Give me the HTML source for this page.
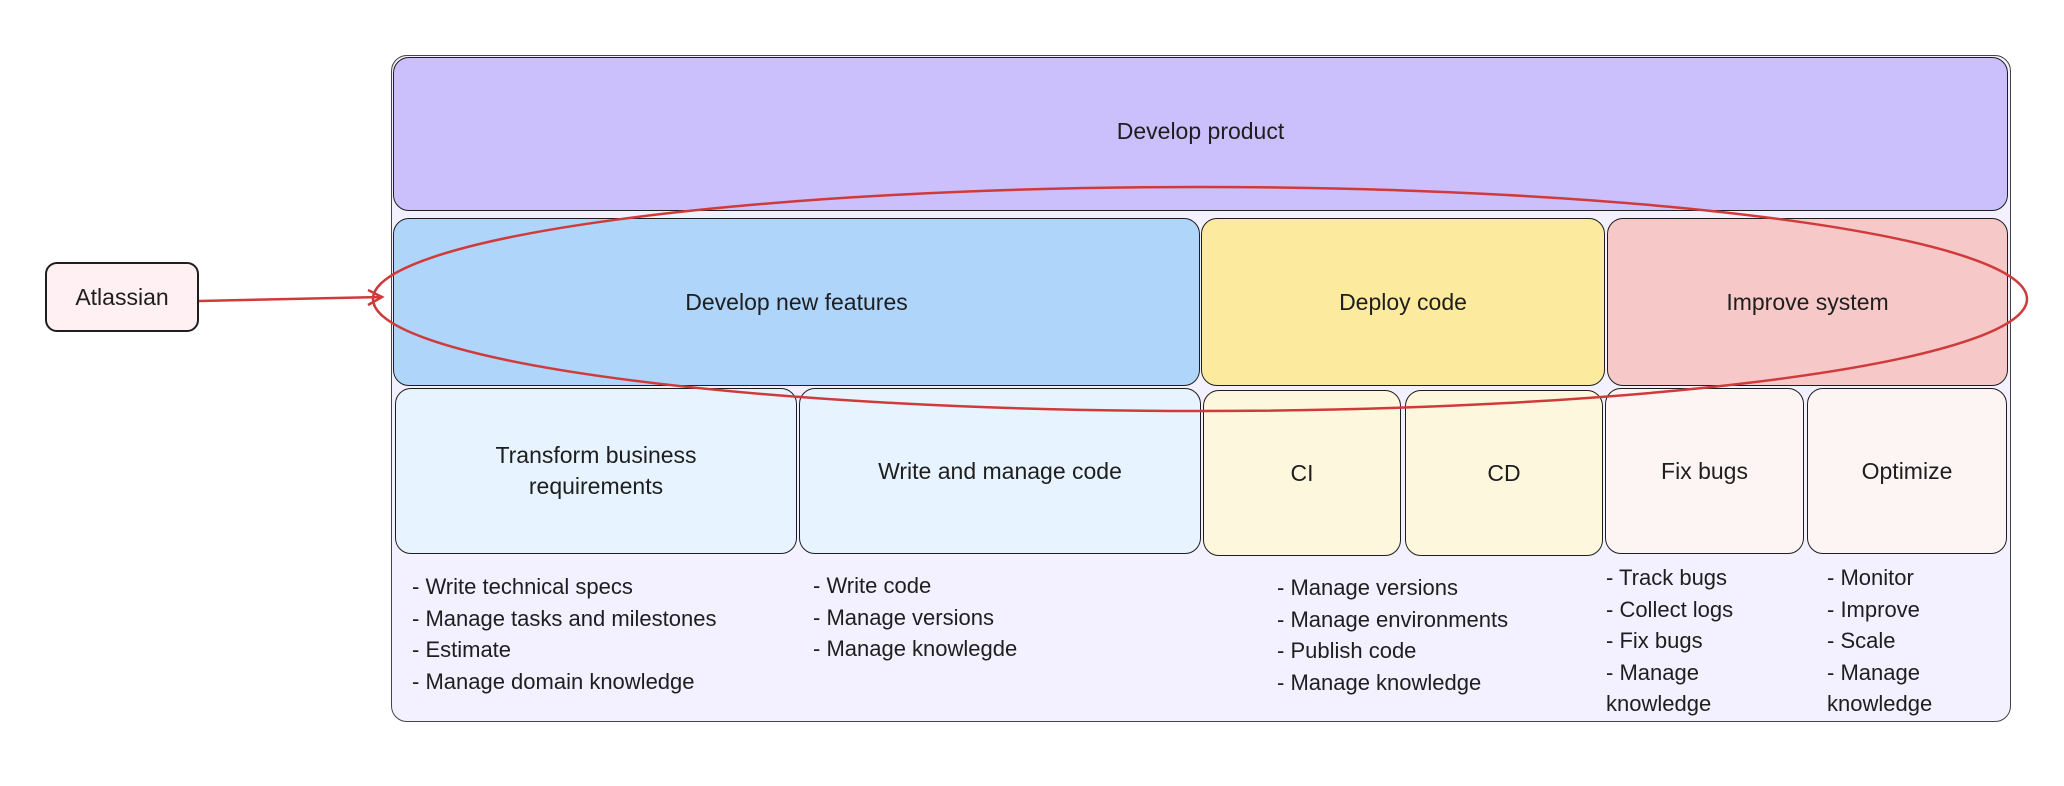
<!DOCTYPE html>
<html><head><meta charset="utf-8"><style>
body{margin:0;width:2064px;height:786px;background:#fff;position:relative;overflow:hidden;font-family:"Liberation Sans",sans-serif;color:#1e1e1e}
.b{position:absolute;box-sizing:border-box;border:1.3px solid #1e1e1e;border-radius:16px;display:flex;align-items:center;justify-content:center;text-align:center;font-size:23px;line-height:31px}
.t{position:absolute;font-size:22px;line-height:31.5px;white-space:pre}
</style></head><body>
<div class="b" style="left:391px;top:55px;width:1620px;height:667px;background:#f3f0ff;border-color:#444"></div>
<div class="b" style="left:393px;top:57px;width:1615px;height:154px;background:#cbc0fb;padding-bottom:6px">Develop product</div>
<div class="b" style="left:393px;top:218px;width:807px;height:168px;background:#afd5fa">Develop new features</div>
<div class="b" style="left:1201px;top:218px;width:404px;height:168px;background:#fcea9f">Deploy code</div>
<div class="b" style="left:1607px;top:218px;width:401px;height:168px;background:#f6c8c8">Improve system</div>
<div class="b" style="left:395px;top:388px;width:402px;height:166px;background:#e7f4ff">Transform business<br>requirements</div>
<div class="b" style="left:799px;top:388px;width:402px;height:166px;background:#e7f4ff">Write and manage code</div>
<div class="b" style="left:1203px;top:390px;width:198px;height:166px;background:#fdf8dd">CI</div>
<div class="b" style="left:1405px;top:390px;width:198px;height:166px;background:#fdf8dd">CD</div>
<div class="b" style="left:1605px;top:388px;width:199px;height:166px;background:#fdf4f4">Fix bugs</div>
<div class="b" style="left:1807px;top:388px;width:200px;height:166px;background:#fdf4f4">Optimize</div>
<div class="t" style="left:412px;top:571px">- Write technical specs
- Manage tasks and milestones
- Estimate
- Manage domain knowledge</div>
<div class="t" style="left:813px;top:570px">- Write code
- Manage versions
- Manage knowlegde</div>
<div class="t" style="left:1277px;top:572px">- Manage versions
- Manage environments
- Publish code
- Manage knowledge</div>
<div class="t" style="left:1606px;top:562px">- Track bugs
- Collect logs
- Fix bugs
- Manage
knowledge</div>
<div class="t" style="left:1827px;top:562px">- Monitor
- Improve
- Scale
- Manage
knowledge</div>
<div class="b" style="left:45px;top:262px;width:154px;height:70px;background:#fff0f3;border:2.5px solid #1e1e1e;border-radius:12px">Atlassian</div>
<svg style="position:absolute;left:0;top:0" width="2064" height="786">
<g fill="none" stroke="#d03a3a" stroke-width="2.5">
<ellipse cx="1200" cy="299" rx="827" ry="112"/>
<path d="M199 301 L382 297"/>
<path d="M368 290 L382 297 L368 305"/>
</g></svg>
</body></html>
